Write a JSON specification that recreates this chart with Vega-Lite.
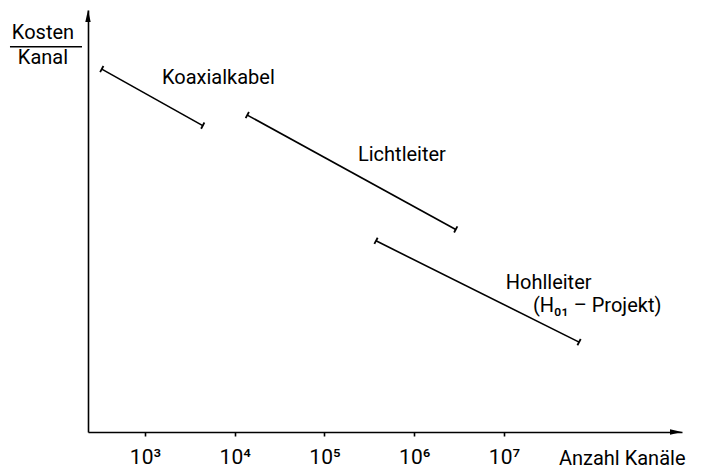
{
  "$schema": "https://vega.github.io/schema/vega-lite/v6.json",
  "width": 594,
  "height": 422,
  "autosize": "none",
  "padding": {"left": 88, "top": 10, "right": 19, "bottom": 38},
  "background": "white",
  "config": {"view": {"stroke": null}, "font": "Roboto"},
  "datasets": {
    "segments": [
      {"medium": "Koaxialkabel", "kanaele": 330, "kosten": 86.0},
      {"medium": "Koaxialkabel", "kanaele": 4400, "kosten": 72.6},
      {"medium": "Lichtleiter", "kanaele": 13800, "kosten": 75.1},
      {"medium": "Lichtleiter", "kanaele": 2900000, "kosten": 48.0},
      {"medium": "Hohlleiter", "kanaele": 375000, "kosten": 45.3},
      {"medium": "Hohlleiter", "kanaele": 68600000, "kosten": 21.3}
    ],
    "labels": [
      {"text": "Koaxialkabel", "kanaele": 1546, "kosten": 83.9},
      {"text": "Lichtleiter", "kanaele": 236000, "kosten": 65.6},
      {"text": "Hohlleiter", "kanaele": 10450000, "kosten": 35.3},
      {"text": "(H₀₁ – Projekt)", "kanaele": 21000000, "kosten": 29.8}
    ]
  },
  "encoding": {
    "x": {
      "field": "kanaele",
      "type": "quantitative",
      "scale": {"type": "log", "domain": [231.7, 962300000], "nice": false},
      "axis": {
        "values": [1000, 10000, 100000, 1000000, 10000000],
        "labelExpr": "'10' + ['³','⁴','⁵','⁶','⁷'][round(log(datum.value)/LN10) - 3]",
        "grid": false,
        "domainColor": "black",
        "domainWidth": 1.6,
        "tickColor": "black",
        "tickWidth": 1.6,
        "tickSize": 4,
        "labelFontSize": 21,
        "labelColor": "black",
        "labelBaseline": "alphabetic",
        "labelPadding": 27,
        "labelFlush": false,
        "labelOverlap": false,
        "title": "Anzahl Kanäle",
        "titleAnchor": "end",
        "titleAlign": "right",
        "titleBaseline": "alphabetic",
        "titleX": 597,
        "titleY": 32,
        "titleFontSize": 20,
        "titleFontWeight": "normal",
        "titleColor": "black"
      }
    },
    "y": {
      "field": "kosten",
      "type": "quantitative",
      "scale": {"domain": [0, 100], "nice": false, "zero": false},
      "axis": {
        "grid": false,
        "ticks": false,
        "labels": false,
        "title": null,
        "domainColor": "black",
        "domainWidth": 1.6
      }
    }
  },
  "layer": [
    {
      "data": {"name": "segments"},
      "mark": {"type": "line", "color": "black", "strokeWidth": 1.6},
      "encoding": {"detail": {"field": "medium"}}
    },
    {
      "data": {"name": "segments"},
      "mark": {"type": "point", "shape": "stroke", "angle": 118, "size": 49, "color": "black", "strokeWidth": 1.8, "filled": false, "opacity": 1}
    },
    {
      "data": {"name": "labels"},
      "mark": {"type": "text", "align": "left", "baseline": "middle", "fontSize": 20, "color": "black"},
      "encoding": {"text": {"field": "text"}}
    },
    {
      "data": {"values": [
        {"text": "Kosten", "kanaele": 73, "kosten": 94.5},
        {"text": "Kanal", "kanaele": 73, "kosten": 88.6}
      ]},
      "mark": {"type": "text", "align": "center", "baseline": "middle", "fontSize": 20, "color": "black"},
      "encoding": {"text": {"field": "text"}}
    },
    {
      "data": {"values": [{"kanaele": 31.3, "kanaele2": 198.6, "kosten": 91.3}]},
      "mark": {"type": "rule", "color": "black", "strokeWidth": 1.6},
      "encoding": {"x2": {"field": "kanaele2"}}
    },
    {
      "data": {"values": [{"kanaele": 825000000, "kosten": 0}]},
      "mark": {"type": "point", "shape": "M1,0L-1,-0.45L-1,0.45Z", "size": 144, "filled": true, "color": "black", "opacity": 1}
    },
    {
      "data": {"values": [{"kanaele": 231.7, "kosten": 98.6}]},
      "mark": {"type": "point", "shape": "M0,-1L-0.45,1L0.45,1Z", "size": 144, "filled": true, "color": "black", "opacity": 1}
    }
  ]
}
